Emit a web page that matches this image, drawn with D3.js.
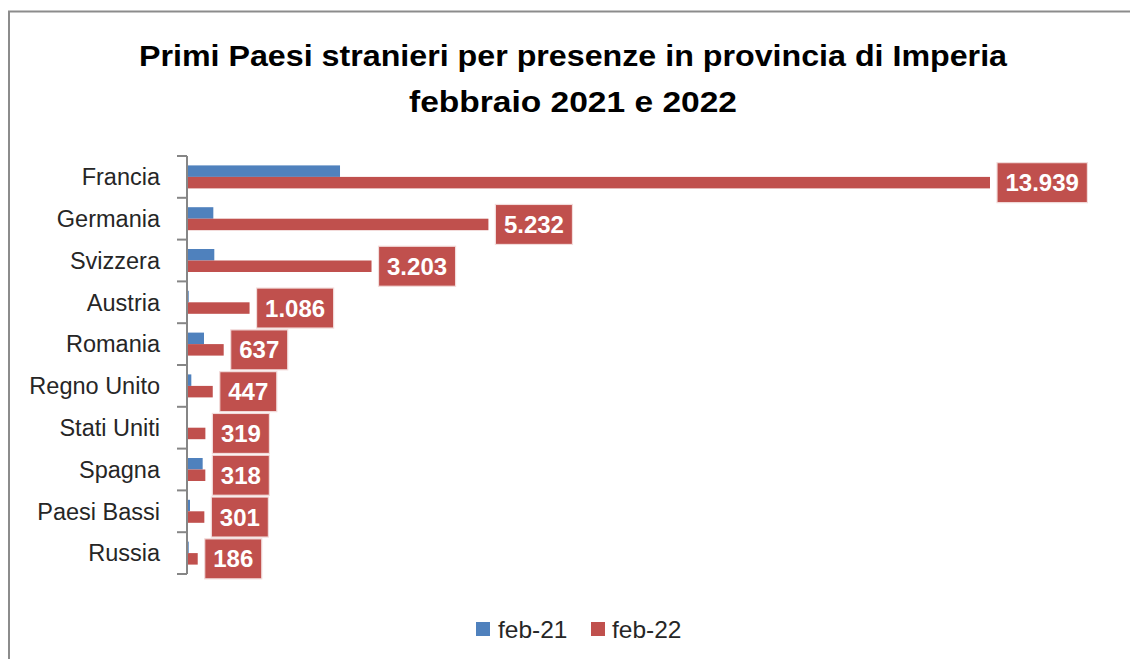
<!DOCTYPE html>
<html>
<head>
<meta charset="utf-8">
<script src="https://cdn.jsdelivr.net/npm/d3@7"></script>
<style>
  html, body { margin: 0; padding: 0; background: #fff; }
  svg { display: block; }
</style>
</head>
<body>
<svg id="chart" width="1130" height="659"></svg>
<script>
const categories = ["Francia", "Germania", "Svizzera", "Austria", "Romania", "Regno Unito", "Stati Uniti", "Spagna", "Paesi Bassi", "Russia"];
const feb21 = [2656, 457, 474, 30, 295, 75, 0, 272, 52, 30];
const feb22 = [13939, 5232, 3203, 1086, 637, 447, 319, 318, 301, 186];
const seriesNames = ["feb-21", "feb-22"];
const seriesColors = ["#4F81BD", "#C0504D"];
const titleLines = ["Primi Paesi stranieri per presenze in provincia di Imperia", "febbraio 2021 e 2022"];

const svg = d3.select("#chart");
const font = "'Liberation Sans', Arial, sans-serif";

// frame
svg.append("rect")
  .attr("x", 9).attr("y", 11.5).attr("width", 1140).attr("height", 700)
  .attr("fill", "#fff").attr("stroke", "#8c8c8c").attr("stroke-width", 2);

// title
const titleWidths = [868, 328];
const titleY = [66, 112];
titleLines.forEach((t, i) => {
  svg.append("text")
    .attr("x", 573).attr("y", titleY[i])
    .attr("text-anchor", "middle")
    .attr("font-family", font).attr("font-weight", "bold")
    .attr("font-size", 29.5).attr("fill", "#000")
    .attr("textLength", titleWidths[i]).attr("lengthAdjust", "spacingAndGlyphs")
    .text(t);
});

const x = d3.scaleLinear().domain([0, 14000]).range([187, 187 + 14000 * (803 / 13939)]);
const y = d3.scaleBand().domain(categories).range([156, 574]).paddingInner(0).paddingOuter(0);
const barH = 11.5;

const fmt = d3.formatLocale({ decimal: ",", thousands: ".", grouping: [3], currency: ["€", ""] }).format(",d");

const g = svg.append("g");

// blue bars
g.selectAll(".b21").data(categories).join("rect")
  .attr("x", x(0))
  .attr("y", (d) => y(d) + y.bandwidth() / 2 - barH)
  .attr("width", (d, i) => x(feb21[i]) - x(0))
  .attr("height", barH)
  .attr("fill", seriesColors[0]);

// red bars
g.selectAll(".b22").data(categories).join("rect")
  .attr("x", x(0))
  .attr("y", (d) => y(d) + y.bandwidth() / 2)
  .attr("width", (d, i) => x(feb22[i]) - x(0))
  .attr("height", barH)
  .attr("fill", seriesColors[1]);

// axis
const axisG = svg.append("g");
axisG.append("line")
  .attr("x1", x(0)).attr("x2", x(0))
  .attr("y1", y.range()[0]).attr("y2", y.range()[1])
  .attr("stroke", "#868686").attr("stroke-width", 2);
const tickYs = categories.map(c => y(c)).concat([y.range()[1]]);
axisG.selectAll(".tick").data(tickYs).join("line")
  .attr("x1", x(0) - 10).attr("x2", x(0))
  .attr("y1", d => d).attr("y2", d => d)
  .attr("stroke", "#868686").attr("stroke-width", 2);

// category labels
svg.selectAll(".cat").data(categories).join("text")
  .attr("x", 160)
  .attr("y", d => y(d) + y.bandwidth() / 2)
  .attr("dy", "0.35em")
  .attr("text-anchor", "end")
  .attr("font-family", font).attr("font-size", 23.5)
  .attr("fill", "#262626")
  .text(d => d);

// data labels for feb-22
const lbl = svg.selectAll(".lbl").data(categories).join("g");
lbl.each(function (d, i) {
  const gg = d3.select(this);
  const cy = y(d) + y.bandwidth() / 2 + barH / 2;
  const left = x(feb22[i]) + 7;
  const rect = gg.append("rect");
  const txt = gg.append("text")
    .attr("y", cy)
    .attr("dy", "0.36em")
    .attr("font-family", font).attr("font-weight", "bold")
    .attr("font-size", 24).attr("fill", "#fff")
    .text(fmt(feb22[i]));
  const tw = txt.node().getComputedTextLength();
  const pad = 8.5;
  txt.attr("x", left + pad);
  rect.attr("x", left).attr("y", cy - 20)
    .attr("width", tw + 2 * pad).attr("height", 40)
    .attr("fill", seriesColors[1])
    .attr("stroke", "#f2dcdb").attr("stroke-width", 1.2);
});

// legend
const legendItems = [{ x: 476, tx: 498 }, { x: 591, tx: 612 }];
seriesNames.forEach((s, i) => {
  svg.append("rect")
    .attr("x", legendItems[i].x).attr("y", 622)
    .attr("width", 14).attr("height", 14)
    .attr("fill", seriesColors[i]);
  svg.append("text")
    .attr("x", legendItems[i].tx).attr("y", 629)
    .attr("dy", "0.35em")
    .attr("font-family", font).attr("font-size", 24.5)
    .attr("fill", "#262626")
    .text(s);
});
</script>
</body>
</html>
